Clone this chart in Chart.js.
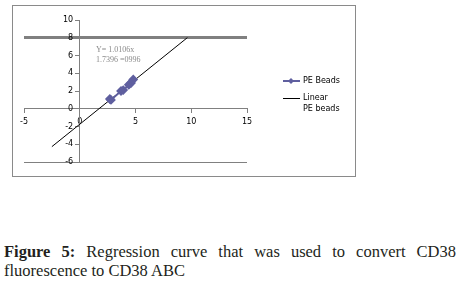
<!DOCTYPE html>
<html>
<head>
<meta charset="utf-8">
<script src="https://cdn.jsdelivr.net/npm/chart.js@4"></script>
<style>
    body { margin: 0; background: #fff; width: 461px; height: 289px; position: relative; overflow: hidden; }
    .frame { position: absolute; left: 12px; top: 5px; width: 342px; height: 170px; border: 1px solid #8a8a8a; }
    .plot { position: absolute; left: 0; top: 0; width: 461px; height: 200px; }
    .caption {
        position: absolute; left: 4px; top: 242px; width: 452px;
        font-family: "Liberation Serif", "DejaVu Serif", serif; font-size: 16.5px; line-height: 19px;
        color: #231f20; text-align: justify;
    }
</style>
</head>
<body>
<div class="frame"></div>
<div class="plot"><canvas id="regChart"></canvas></div>
<div class="caption"><b>Figure 5:</b> Regression curve that was used to convert CD38 fluorescence to CD38 ABC</div>

<script>
// PE beads measured points
const beadX = [2.7, 2.8, 3.7, 3.9, 4.4, 4.6, 4.8];
const beadY = [1.1, 1.0, 2.0, 2.1, 2.7, 2.9, 3.3];

// linear trendline ends
const trendX = [-2.5, 9.65];
const trendY = [-4.27, 8.01];

const xTicks = [-5, 0, 5, 10, 15];
const yTicks = [10, 8, 6, 4, 2, 0, -2, -4, -6];
const gridValues = [8, -6];

const seriesNames = ["PE Beads", "Linear", "PE beads"];
const equationLines = ["Y= 1.0106x", "1.7396 =0996"];

const beadColor = "#5f5f9f";

const beadPoints = beadX.map((x, i) => ({ x: x, y: beadY[i] }));
const trendPoints = trendX.map((x, i) => ({ x: x, y: trendY[i] }));

/* ===== legend + equation drawn on canvas ===== */
const extras = {
    id: "extras",
    afterDraw(chart) {
        const ctx = chart.ctx;
        ctx.save();

        // equation label
        ctx.fillStyle = "#8a8a8a";
        ctx.font = "8px 'Liberation Serif', serif";
        ctx.textBaseline = "middle";
        ctx.fillText(equationLines[0], 96, 50);
        ctx.fillText(equationLines[1], 96, 60);

        // legend - PE Beads
        ctx.strokeStyle = beadColor;
        ctx.lineWidth = 2;
        ctx.beginPath();
        ctx.moveTo(283, 81);
        ctx.lineTo(300, 81);
        ctx.stroke();
        ctx.fillStyle = beadColor;
        ctx.beginPath();
        ctx.moveTo(291, 78);
        ctx.lineTo(294, 81);
        ctx.lineTo(291, 84);
        ctx.lineTo(288, 81);
        ctx.closePath();
        ctx.fill();

        // legend - Linear
        ctx.strokeStyle = "#000";
        ctx.lineWidth = 1;
        ctx.beginPath();
        ctx.moveTo(283, 98.5);
        ctx.lineTo(300, 98.5);
        ctx.stroke();

        ctx.fillStyle = "#000";
        ctx.font = "8px 'DejaVu Sans', sans-serif";
        ctx.fillText(seriesNames[0], 303, 81);
        ctx.fillText(seriesNames[1], 303, 98);
        ctx.fillText(seriesNames[2], 303, 109);
        ctx.restore();
    }
};

const regChart = new Chart(document.getElementById("regChart"), {
    type: "scatter",
    data: {
        datasets: [
            {
                label: seriesNames[0],
                data: beadPoints,
                showLine: true,
                borderColor: beadColor,
                backgroundColor: beadColor,
                borderWidth: 2,
                pointStyle: "rectRot",
                pointRadius: 3.5,
                pointHoverRadius: 3.5
            },
            {
                label: seriesNames[1],
                data: trendPoints,
                showLine: true,
                borderColor: "#000",
                borderWidth: 1,
                pointRadius: 0
            }
        ]
    },
    plugins: [extras],
    options: {
        responsive: true,
        maintainAspectRatio: false,
        animation: false,
        events: [],
        layout: { padding: { left: 24, right: 214, top: 20, bottom: 38 } },
        plugins: {
            legend: { display: false },
            tooltip: { enabled: false }
        },
        scales: {
            x: {
                type: "linear",
                min: -5,
                max: 15,
                position: { y: 0 },
                afterBuildTicks: (s) => { s.ticks = xTicks.map(v => ({ value: v })); },
                ticks: { color: "#000", font: { size: 8, family: "DejaVu Sans" }, padding: 4, maxRotation: 0 },
                grid: { color: "transparent", tickColor: "#808080", tickLength: 4 },
                border: { color: "#808080", width: 1 }
            },
            y: {
                type: "linear",
                min: -6,
                max: 10,
                position: { x: 0 },
                afterBuildTicks: (s) => { s.ticks = yTicks.map(v => ({ value: v })); },
                ticks: {
                    color: "#000",
                    font: { size: 8, family: "DejaVu Sans" },
                    // labels sit right on the axis when it is placed by value, so push them left
                    callback: (v) => v + "\u2002 "
                },
                grid: {
                    color: (c) => gridValues.includes(c.tick.value) ? "#808080" : "transparent",
                    lineWidth: (c) => c.tick.value === 8 ? 3 : 1,
                    tickColor: "#808080",
                    tickLength: 4
                },
                border: { color: "#808080", width: 1 }
            }
        }
    }
});
</script>
</body>
</html>
